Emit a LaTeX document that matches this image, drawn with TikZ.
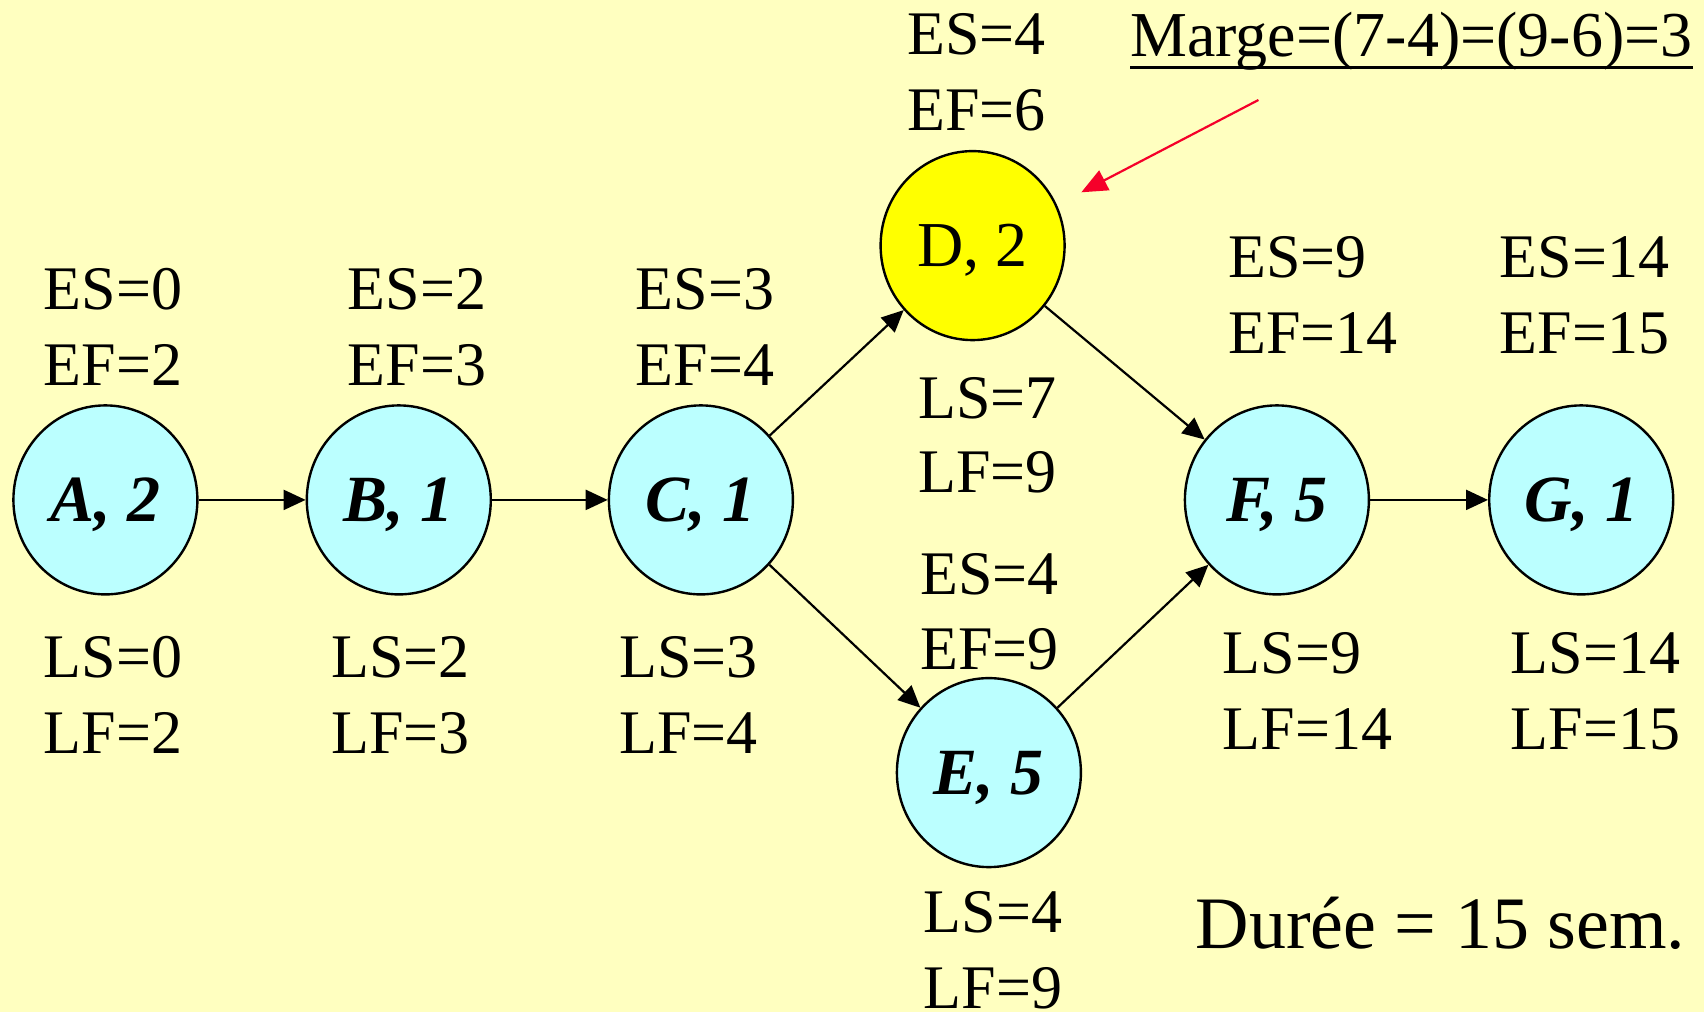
\documentclass[tikz,border=0pt]{standalone}
\usepackage{fontspec}
\setmainfont{Liberation Serif}
\usetikzlibrary{shapes.geometric,arrows.meta,calc}
\definecolor{bgyellow}{HTML}{FFFFC0}
\definecolor{nodecyan}{HTML}{BBFFFF}
\definecolor{crityellow}{HTML}{FFFF00}
\definecolor{margered}{HTML}{F5002A}
\tikzset{
  act/.style={ellipse, draw=black, line width=2.4pt, fill=nodecyan,
    minimum width=184pt, minimum height=189pt, inner sep=0pt, text depth=0pt,
    font=\fontsize{66}{70}\selectfont\bfseries\itshape},
  actd/.style={act, fill=crityellow, font=\fontsize{64}{70}\selectfont},
  lbl/.style={anchor=base west, inner sep=0pt, font=\fontsize{62}{70}\selectfont},
  mlbl/.style={anchor=base west, inner sep=0pt, font=\fontsize{64}{70}\selectfont},
  big/.style={anchor=base west, inner sep=0pt, font=\fontsize{74}{80}\selectfont},
  link/.style={line width=2.2pt, -{Triangle[length=22pt,width=20pt]}},
  redlink/.style={draw=margered, line width=2.2pt, -{Triangle[length=26pt,width=22pt]}}
}
\begin{document}
\begin{tikzpicture}[x=1pt,y=-1pt]
\useasboundingbox (0,0) rectangle (1704,1012);
\fill[bgyellow] (0,0) rectangle (1704,1012);
% nodes
\node[act] (A) at (105.4,499.9) {A, 2};
\node[act] (B) at (398.8,499.9) {B, 1};
\node[act] (C) at (700.9,499.9) {C, 1};
\node[actd] (D) at (972.6,245.6) {D, 2};
\node[act] (E) at (988.9,772.6) {E, 5};
\node[act] (F) at (1276.9,499.9) {F, 5};
\node[act] (G) at (1581.2,499.9) {G, 1};
% edges
\draw[link] (A) -- (B);
\draw[link] (B) -- (C);
\draw[link] (C) -- (D);
\draw[link] (C) -- (E);
\draw[link] (D) -- (F);
\draw[link] (E) -- (F);
\draw[link] (F) -- (G);
% labels A
\node[lbl] (aes) at (43.5,309.7) {ES=0};
\node[lbl] (aef) at (43.5,385.8) {EF=2};
\node[lbl] (als) at (43.5,677) {LS=0};
\node[lbl] (alf) at (43.5,753.1) {LF=2};
% labels B
\node[lbl] (bes) at (347.7,309.7) {ES=2};
\node[lbl] (bef) at (347.7,385.8) {EF=3};
\node[lbl] (bls) at (331.4,677) {LS=2};
\node[lbl] (blf) at (331.4,753.1) {LF=3};
% labels C
\node[lbl] (ces) at (635.7,309.7) {ES=3};
\node[lbl] (cef) at (635.7,385.8) {EF=4};
\node[lbl] (cls) at (619.4,677) {LS=3};
\node[lbl] (clf) at (619.4,753.1) {LF=4};
% labels D
\node[lbl] (des) at (907.4,54.3) {ES=4};
\node[lbl] (def) at (907.4,130.4) {EF=6};
\node[lbl] (dls) at (918.3,418.4) {LS=7};
\node[lbl] (dlf) at (918.3,492.3) {LF=9};
% labels E
\node[lbl] (ees) at (920.4,594.4) {ES=4};
\node[lbl] (eef) at (920.4,669.4) {EF=9};
\node[lbl] (els) at (923.7,932.4) {LS=4};
\node[lbl] (elf) at (923.7,1008.5) {LF=9};
% labels F
\node[lbl] (fes) at (1228,277.1) {ES=9};
\node[lbl] (fef) at (1228,353.2) {EF=14};
\node[lbl] (fls) at (1222.5,673.8) {LS=9};
\node[lbl] (flf) at (1222.5,749.8) {LF=14};
% labels G
\node[lbl] (ges) at (1499.6,277.1) {ES=14};
\node[lbl] (gef) at (1499.6,353.2) {EF=15};
\node[lbl] (gls) at (1510.5,673.8) {LS=14};
\node[lbl] (glf) at (1510.5,749.8) {LF=15};
% marge
\node[mlbl] (marge) at (1130.2,56.5) {Marge=(7-4)=(9-6)=3};
\draw[line width=2.6pt] ($(marge.base west)+(0,11)$) -- ($(marge.base east)+(0,11)$);
\coordinate (rs) at (1258.4,100);
\coordinate (re) at (1081.3,192.3);
\draw[redlink] (rs) -- (re);
% duree
\node[big] (duree) at (1195.4,948.7) {Durée = 15 sem.};
\end{tikzpicture}
\end{document}
